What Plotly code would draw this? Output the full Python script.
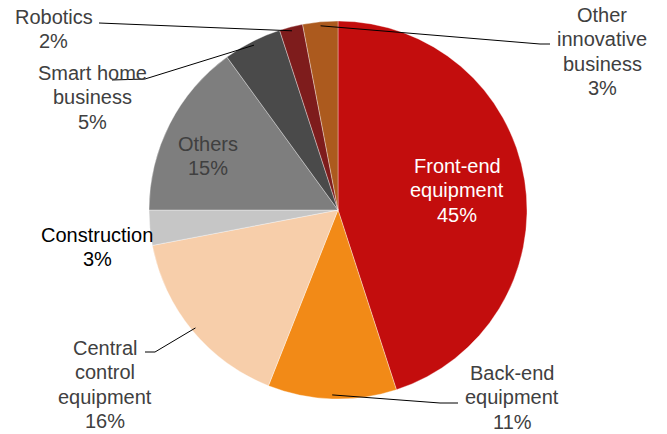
import math
import plotly.graph_objects as go

# Revenue mix by business segment (percent)
segments = [
    "Front-end equipment",
    "Back-end equipment",
    "Central control equipment",
    "Construction",
    "Others",
    "Smart home business",
    "Robotics",
    "Other innovative business",
]
shares = [45, 11, 16, 3, 15, 5, 2, 3]
label_lines = [
    ["Front-end", "equipment"],
    ["Back-end", "equipment"],
    ["Central", "control", "equipment"],
    ["Construction"],
    ["Others"],
    ["Smart home", "business"],
    ["Robotics"],
    ["Other", "innovative", "business"],
]

colors = ["#C30D0D", "#F28A17", "#F7CEAA", "#C6C6C6", "#7E7E7E",
          "#4A4A4A", "#7E1C1C", "#AC5A1E"]
text_colors = ["#FFFFFF", "#404040", "#404040", "#000000", "#404040",
               "#404040", "#404040", "#404040"]

W, H = 667, 434
CX, CY, R = 338, 210, 189
LINE_H = 24.3
FONT = "Liberation Sans, Arial, sans-serif"

# centre of the first text line for each label (pixels)
label_pos = [(457, 166), (512, 373), (105, 348), (97, 235),
             (208, 144), (92, 73), (54, 17), (602, 15)]
# leader line: points on the label side, in pixels; None = no leader
leader_pts = [
    None,
    [(458, 403), (440, 403)],
    [(145, 352), (155, 352)],
    None,
    None,
    [(112, 80), (145, 79)],
    [(99, 23)],
    [(550, 44), (540, 44)],
]

fig = go.Figure(go.Pie(
    labels=segments,
    values=shares,
    sort=False,
    direction="clockwise",
    rotation=0,
    textinfo="none",
    hoverinfo="label+percent",
    marker=dict(colors=colors, line=dict(color="rgba(255,255,255,0.5)", width=0.7)),
    domain=dict(x=[(CX - R) / W, (CX + R) / W],
                y=[1 - (CY + R) / H, 1 - (CY - R) / H]),
    showlegend=False,
))

def px(x):
    return x / W

def py(y):
    return 1 - y / H

total = sum(shares)
annotations = []
shapes = []
cum = 0
for name, val, lines, pos, col, lead in zip(segments, shares, label_lines,
                                            label_pos, text_colors, leader_pts):
    mid = (cum + val / 2) / total * 2 * math.pi
    cum += val
    x0, y0 = pos
    for i, t in enumerate(lines + [f"{val}%"]):
        annotations.append(dict(
            x=px(x0), y=py(y0 + i * LINE_H), xref="paper", yref="paper",
            text=t, showarrow=False, xanchor="center", yanchor="middle",
            borderpad=0,
            font=dict(family=FONT, size=20, color=col),
        ))
    if lead:
        # anchor just inside the slice edge, at the slice's mid angle
        ax = CX + (R - 4) * math.sin(mid)
        ay = CY - (R - 4) * math.cos(mid)
        pts = lead + [(ax, ay)]
        path = "M " + " L ".join(f"{px(a)},{py(b)}" for a, b in pts)
        shapes.append(dict(type="path", xref="paper", yref="paper", path=path,
                           line=dict(color="#000000", width=1)))

fig.update_layout(
    width=W, height=H,
    margin=dict(l=0, r=0, t=0, b=0),
    paper_bgcolor="white",
    plot_bgcolor="white",
    annotations=annotations,
    shapes=shapes,
)

fig.write_html("out.html")
